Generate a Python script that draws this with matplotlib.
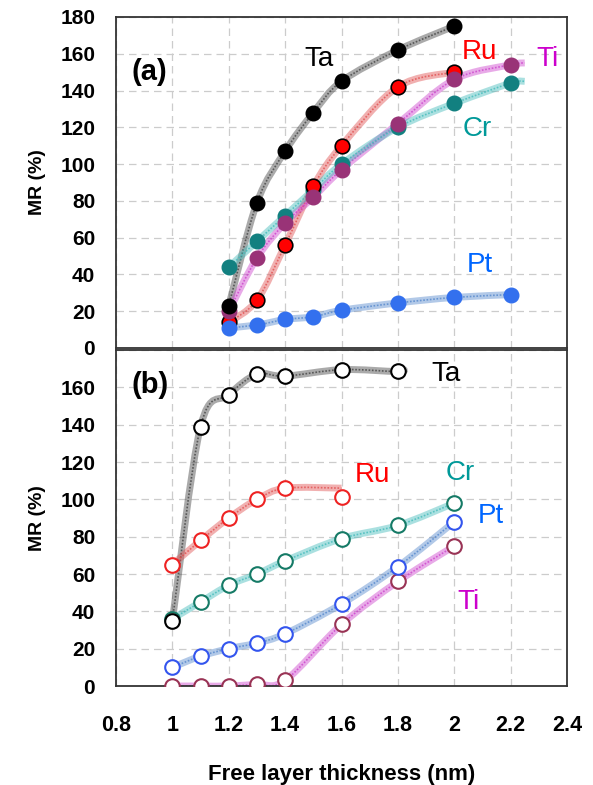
import numpy as np
import matplotlib.pyplot as plt
from matplotlib.path import Path
from matplotlib.patches import PathPatch

plt.rcParams['font.family'] = ['Liberation Sans', 'DejaVu Sans']

# (a) filled markers
a_ta_x = [1.2, 1.3, 1.4, 1.5, 1.6, 1.8, 2.0]
a_ta_y = [23, 79, 107, 128, 145, 162, 175]
a_ru_x = [1.2, 1.3, 1.4, 1.5, 1.6, 1.8, 2.0]
a_ru_y = [14, 26, 56, 88, 110, 142, 150]
a_ti_x = [1.2, 1.3, 1.4, 1.5, 1.6, 1.8, 2.0, 2.2]
a_ti_y = [20, 49, 68, 82, 97, 122, 146, 154]
a_cr_x = [1.2, 1.3, 1.4, 1.5, 1.6, 1.8, 2.0, 2.2]
a_cr_y = [44, 58, 72, 86, 100, 120, 133, 144]
a_pt_x = [1.2, 1.3, 1.4, 1.5, 1.6, 1.8, 2.0, 2.2]
a_pt_y = [11, 12.5, 15.5, 17, 20.5, 24.5, 27.5, 29]

# (b) open markers
b_ta_x = [1.0, 1.1, 1.2, 1.3, 1.4, 1.6, 1.8]
b_ta_y = [35, 139, 156, 167, 166, 169.5, 168.5]
b_ru_x = [1.0, 1.1, 1.2, 1.3, 1.4, 1.6]
b_ru_y = [65, 78, 90, 100, 106, 101]
b_cr_x = [1.0, 1.1, 1.2, 1.3, 1.4, 1.6, 1.8, 2.0]
b_cr_y = [36, 45, 54, 60, 67, 79, 86, 98]
b_pt_x = [1.0, 1.1, 1.2, 1.3, 1.4, 1.6, 1.8, 2.0]
b_pt_y = [10, 16, 20, 23, 28, 44, 64, 88]
b_ti_x = [1.0, 1.1, 1.2, 1.3, 1.4, 1.6, 1.8, 2.0]
b_ti_y = [0, 0, 0, 1, 3, 33, 56, 75]


def smooth(ax, xs, ys, color):
    # catmull-rom style bezier through the points, drawn by matplotlib
    p = np.column_stack([xs, ys]).astype(float)
    verts = [p[0]]
    codes = [Path.MOVETO]
    for i in range(len(p) - 1):
        p0 = p[i - 1] if i > 0 else p[i]
        p3 = p[i + 2] if i + 2 < len(p) else p[i + 1]
        c1 = p[i] + (p[i + 1] - p0) / 6
        c2 = p[i + 1] - (p3 - p[i]) / 6
        verts += [c1, c2, p[i + 1]]
        codes += [Path.CURVE4] * 3
    path = Path(verts, codes)
    ax.add_patch(PathPatch(path, fill=False, edgecolor=color, lw=5, alpha=0.45, zorder=2))
    ax.add_patch(PathPatch(path, fill=False, edgecolor=color, lw=1.2, ls=(0, (1, 1)), alpha=0.8, zorder=2))


fig = plt.figure(figsize=(5.93, 7.85), dpi=100)
ax1 = fig.add_axes([0.1956, 0.5567, 0.7606, 0.4217])
ax2 = fig.add_axes([0.1956, 0.1261, 0.7606, 0.4280])

ms = 10.5
# panel (a)
smooth(ax1, a_ta_x, a_ta_y, '#444444')
smooth(ax1, a_ru_x, a_ru_y, '#e05050')
smooth(ax1, a_ti_x + [2.25], a_ti_y + [155], '#cc44cc')
smooth(ax1, a_cr_x + [2.25], a_cr_y + [145], '#44bbbb')
smooth(ax1, a_pt_x, a_pt_y, '#5588cc')
ax1.plot(a_cr_x, a_cr_y, 'o', ms=ms, color='#128080', zorder=3)
ax1.plot(a_ti_x, a_ti_y, 'o', ms=ms, color='#993377', zorder=4)
ax1.plot(a_ru_x, a_ru_y, 'o', ms=ms, mfc='#ff0000', mec='black', mew=1.2, zorder=3)
ax1.plot(a_ta_x, a_ta_y, 'o', ms=ms, color='black', zorder=5)
ax1.plot(a_pt_x, a_pt_y, 'o', ms=ms, color='#3370ee', zorder=3)

tfs = 20
ax1.text(1.52, 157, 'Ta', color='black', fontsize=tfs, ha='center', va='center')
ax1.text(2.09, 161, 'Ru', color='#ff0000', fontsize=tfs, ha='center', va='center')
ax1.text(2.33, 157, 'Ti', color='#cc00cc', fontsize=tfs, ha='center', va='center')
ax1.text(2.08, 119, 'Cr', color='#009999', fontsize=tfs, ha='center', va='center')
ax1.text(2.09, 45, 'Pt', color='#0066ff', fontsize=tfs, ha='center', va='center')
ax1.text(0.92, 150, '(a)', fontsize=21, fontweight='bold', ha='center', va='center')

# panel (b)
smooth(ax2, b_ta_x + [1.82], b_ta_y + [170], '#444444')
smooth(ax2, b_ru_x[:-1] + [1.6], b_ru_y[:-1] + [106], '#e05050')
smooth(ax2, b_cr_x, b_cr_y, '#44bbbb')
smooth(ax2, b_pt_x, b_pt_y, '#5588cc')
smooth(ax2, b_ti_x, b_ti_y, '#cc44cc')
kw = dict(ms=ms, mfc='white', mew=1.5, ls='none', zorder=3)
ax2.plot(b_ti_x, b_ti_y, 'o', mec='#993355', **kw)
ax2.plot(b_pt_x, b_pt_y, 'o', mec='#3355ee', **kw)
ax2.plot(b_cr_x, b_cr_y, 'o', mec='#157a66', **kw)
ax2.plot(b_ru_x, b_ru_y, 'o', mec='#ee2222', **kw)
ax2.plot(b_ta_x, b_ta_y, 'o', mec='black', **kw)

ax2.text(1.97, 167, 'Ta', color='black', fontsize=tfs, ha='center', va='center')
ax2.text(1.71, 113, 'Ru', color='#ff0000', fontsize=tfs, ha='center', va='center')
ax2.text(2.02, 114, 'Cr', color='#009999', fontsize=tfs, ha='center', va='center')
ax2.text(2.13, 91, 'Pt', color='#0066ff', fontsize=tfs, ha='center', va='center')
ax2.text(2.05, 45, 'Ti', color='#cc00cc', fontsize=tfs, ha='center', va='center')
ax2.text(0.92, 161, '(b)', fontsize=21, fontweight='bold', ha='center', va='center')

xticks = [0.8, 1.0, 1.2, 1.4, 1.6, 1.8, 2.0, 2.2, 2.4]
xticklabels = ['0.8', '1', '1.2', '1.4', '1.6', '1.8', '2', '2.2', '2.4']
for ax in (ax1, ax2):
    ax.set_xlim(0.8, 2.4)
    ax.set_ylim(0, 180)
    ax.set_xticks(xticks)
    ax.grid(True, ls=(0, (6, 4)), color='#cccccc', lw=0.9, zorder=0)
    ax.set_axisbelow(True)
    ax.tick_params(length=0, labelsize=15)
    ax.tick_params(axis='y', pad=15)
    for s in ax.spines.values():
        s.set_color('#333333')
        s.set_linewidth(1.3)
    ax.set_ylabel('MR (%)', fontsize=14, fontweight='bold', labelpad=10)

ax1.set_yticks(range(0, 181, 20))
ax1.set_yticklabels([str(v) for v in range(0, 181, 20)], fontweight='bold')
ax1.set_xticklabels([])
ax2.set_yticks(range(0, 181, 20))
ax2.set_yticklabels([str(v) for v in range(0, 161, 20)] + [''], fontweight='bold')
ax2.set_xticklabels(xticklabels, fontweight='bold', fontsize=15.5)
ax2.tick_params(axis='x', pad=21)
ax2.set_xlabel('Free layer thickness (nm)', fontsize=16, fontweight='bold', labelpad=20)

fig.savefig('out.png', dpi=100)
